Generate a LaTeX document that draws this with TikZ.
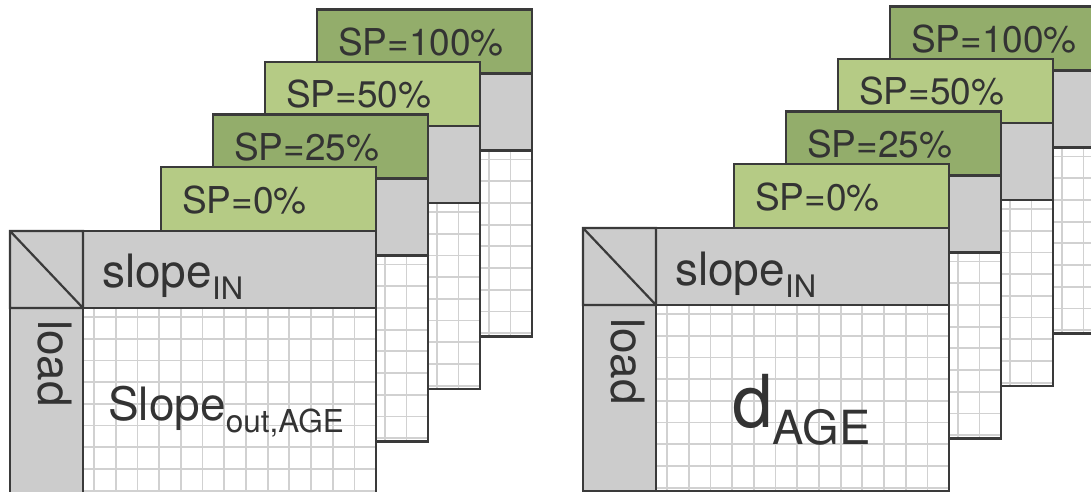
\documentclass[tikz,border=0pt]{standalone}
\usepackage{fontspec}
\setmainfont{TeX Gyre Heros}
\definecolor{splight}{HTML}{B5CB85}
\definecolor{spdark}{HTML}{93AD6B}
\definecolor{hdrgray}{HTML}{CCCCCC}
\definecolor{framegray}{HTML}{3A3A3A}
\definecolor{textgray}{HTML}{333333}
\newcommand{\fs}[1]{\fontsize{#1}{#1}\selectfont}
\newcommand{\lowsub}[3]{\raisebox{-#2pt}{\fs{#1}#3}}
% one sheet: #1,#2 top left corner of the body, #3 tab colour, #4 tab text,
% #5 name, #6 left edge of the body that is drawn
\newcommand{\spsheet}[6]{%
  \begin{scope}[shift={({#1},{#2})}]
    \filldraw[frame,fill=#3] (151,-64) rectangle (366,0);
    \fill[white] (#6,0) rectangle (366,263);
    \begin{scope}
      \clip (73,77) rectangle (366,263);
      \foreach \gx in {0,...,13} \draw[gridline] ({84+21.7*\gx},77) -- ++(0,186);
      \foreach \gy in {0,...,8} \draw[gridline] (73,{86+21.7*\gy}) -- ++(293,0);
    \end{scope}
    \filldraw[frame,fill=hdrgray] (#6,0) rectangle (366,77);
    \draw[frame] (#6,0) rectangle (366,263);
    \node[splabel] (#5) at (172,-18) {#4};
  \end{scope}}
% left column and corner of the front sheet
\newcommand{\spfront}[2]{%
  \begin{scope}[shift={({#1},{#2})}]
    \filldraw[frame,fill=hdrgray] (0,77) rectangle (73,263);
    \draw[frame] (0,0) -- (73,77) (0,0) rectangle (73,77);
  \end{scope}}

\begin{document}
\begin{tikzpicture}[x=1pt,y=-1pt,text=textgray]
\tikzstyle{frame}=[draw=framegray,line width=2.2pt]
\tikzstyle{gridline}=[draw=black!18,line width=1.8pt]
\tikzstyle{lbl}=[inner sep=0pt,anchor=base west]
\tikzstyle{splabel}=[lbl,font=\fs{37}]
\tikzstyle{hdrtext}=[lbl,font=\fs{46}]
\useasboundingbox (0,0) rectangle (1091,492);
% left stack
\foreach \i/\c/\t in {3/spdark/SP=100\%,2/splight/SP=50\%,1/spdark/SP=25\%}
  \spsheet{10+52*\i}{231-52.5*\i}{\c}{\t}{spL\i}{151};
\spsheet{10}{231}{splight}{SP=0\%}{spL0}{0}
\spfront{10}{231}
\node[hdrtext] (slopeinL) at (102,287) {slope\lowsub{31}{12}{IN}};
\node[hdrtext,rotate=-90] (loadL) at (38,320) {load};
\node[hdrtext] (slopeout) at (108,420) {Slope\lowsub{31.5}{12}{out,AGE}};
% right stack
\foreach \i/\c/\t in {3/spdark/SP=100\%,2/splight/SP=50\%,1/spdark/SP=25\%}
  \spsheet{583+52*\i}{228-52.5*\i}{\c}{\t}{spR\i}{151};
\spsheet{583}{228}{splight}{SP=0\%}{spR0}{0}
\spfront{583}{228}
\node[hdrtext] (slopeinR) at (675,285) {slope\lowsub{31}{12}{IN}};
\node[hdrtext,rotate=-90] (loadR) at (611,318) {load};
\node[lbl,font=\fs{73}] (dage) at (732,427) {d\lowsub{47}{17}{AGE}};
\end{tikzpicture}
\end{document}
